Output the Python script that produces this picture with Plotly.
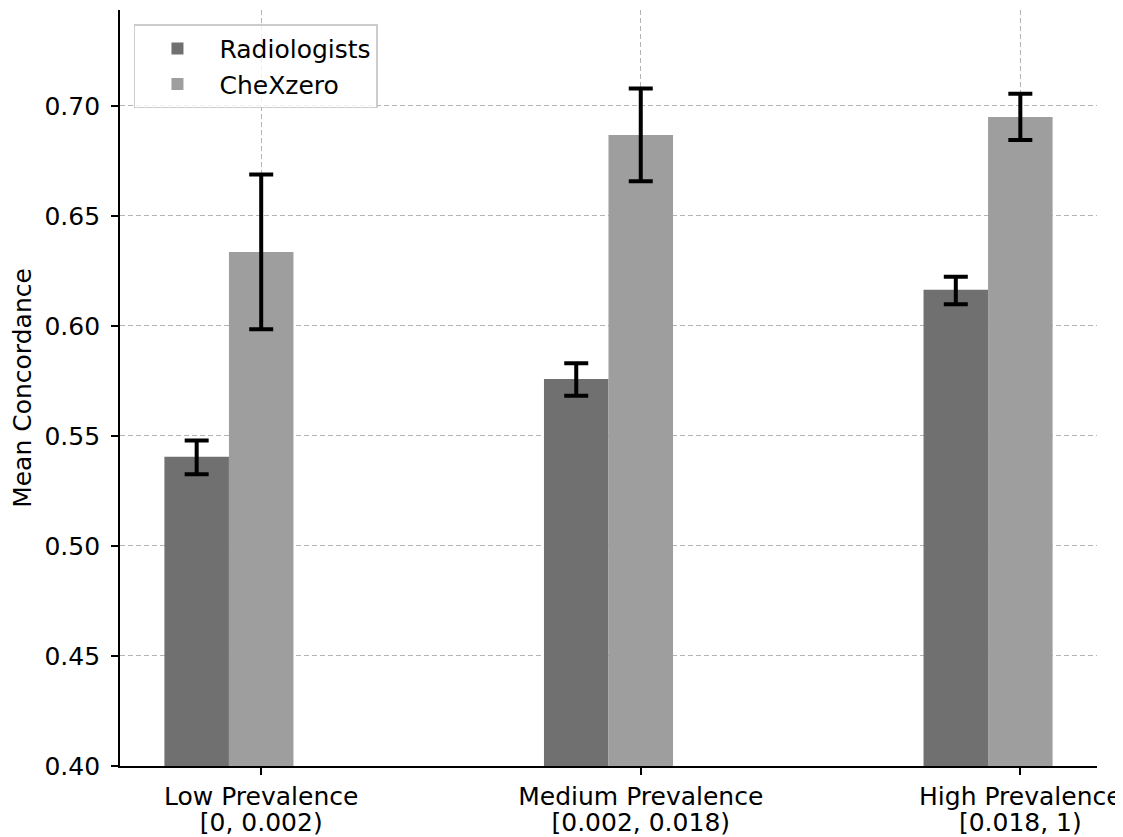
import plotly.graph_objects as go

cat_names = ["Low Prevalence", "Medium Prevalence", "High Prevalence"]
cat_ranges = ["[0, 0.002)", "[0.002, 0.018)", "[0.018, 1)"]
positions = [0, 1, 2]

rad_mean = [0.5406, 0.5759, 0.6164]
rad_low = [0.5326, 0.5683, 0.6099]
rad_high = [0.5479, 0.5830, 0.6224]

chex_mean = [0.6336, 0.6868, 0.6950]
chex_low = [0.5985, 0.6658, 0.6845]
chex_high = [0.6688, 0.7079, 0.7055]

yticks = [0.40, 0.45, 0.50, 0.55, 0.60, 0.65, 0.70]

W = 0.17
FONT = "DejaVu Sans"
XRANGE = [-0.372, 2.202]

fig = go.Figure()
fig.add_trace(go.Bar(
    name="Radiologists",
    x=[p - W for p in positions], y=rad_mean, width=W,
    marker=dict(color="#707070", line=dict(width=0)),
    error_y=dict(type="data", symmetric=False,
                 array=[h - m for h, m in zip(rad_high, rad_mean)],
                 arrayminus=[m - l for m, l in zip(rad_mean, rad_low)],
                 color="black", thickness=4, width=12),
))
fig.add_trace(go.Bar(
    name="CheXzero",
    x=positions, y=chex_mean, width=W,
    marker=dict(color="#9e9e9e", line=dict(width=0)),
    error_y=dict(type="data", symmetric=False,
                 array=[h - m for h, m in zip(chex_high, chex_mean)],
                 arrayminus=[m - l for m, l in zip(chex_mean, chex_low)],
                 color="black", thickness=4, width=12),
))
# invisible carrier trace so the overlaid axis (second label line) is drawn
fig.add_trace(go.Scatter(
    x=positions, y=chex_mean, xaxis="x2", yaxis="y",
    mode="markers", marker=dict(opacity=0, size=1),
    showlegend=False, hoverinfo="skip",
))

grid_color = "rgba(160,160,160,0.8)"
# the page body has an 8px margin, so the figure is sized to fit the window
fig.update_layout(
    width=1115, height=829,
    margin=dict(l=112, r=26, t=2, b=71, autoexpand=False),
    paper_bgcolor="white", plot_bgcolor="white",
    barmode="overlay",
    font=dict(family=FONT, size=25, color="black"),
    legend=dict(
        x=0.0143, y=0.981, xanchor="left", yanchor="top",
        bgcolor="rgba(255,255,255,0.8)", bordercolor="#cccccc", borderwidth=1.5,
        font=dict(family=FONT, size=25, color="black"),
        itemwidth=74, tracegroupgap=4,
    ),
    xaxis=dict(
        range=XRANGE, automargin=False,
        tickmode="array", tickvals=positions, ticktext=cat_names,
        showline=True, linecolor="black", linewidth=1.7,
        ticks="outside", ticklen=7, tickwidth=1.7, tickcolor="black",
        showgrid=True, gridcolor=grid_color, gridwidth=1, griddash="5px,3px",
        zeroline=False, layer="above traces",
        tickfont=dict(family=FONT, size=25, color="black"),
    ),
    # second line of the category labels, on an overlaid axis for tighter line spacing
    xaxis2=dict(
        range=XRANGE, automargin=False, overlaying="x", anchor="y", side="bottom",
        tickmode="array", tickvals=positions, ticktext=cat_ranges,
        showline=False, showgrid=False, zeroline=False,
        ticks="outside", ticklen=7, tickwidth=1, tickcolor="rgba(0,0,0,0)",
        ticklabelstandoff=27,
        tickfont=dict(family=FONT, size=25, color="black"),
    ),
    yaxis=dict(
        range=[0.40, 0.7436], automargin=False,
        tickmode="array", tickvals=yticks, ticktext=[f"{v:.2f}" for v in yticks],
        showline=True, linecolor="black", linewidth=1.7,
        ticks="outside", ticklen=7, tickwidth=1.7, tickcolor="black",
        showgrid=True, gridcolor=grid_color, gridwidth=1, griddash="5px,3px",
        zeroline=False, layer="above traces",
        tickfont=dict(family=FONT, size=25, color="black"),
        ticklabelstandoff=6,
        title=dict(text="Mean Concordance", font=dict(family=FONT, size=25, color="black"), standoff=14),
    ),
)

fig.write_html("out.html")
